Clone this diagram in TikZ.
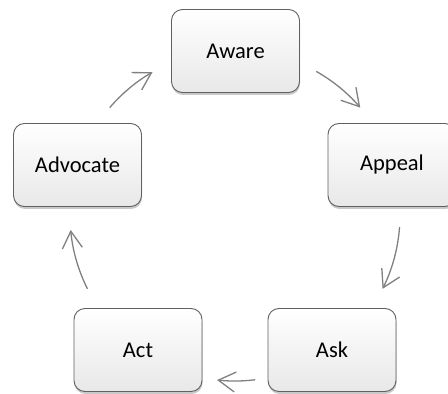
\documentclass[tikz,border=0pt]{standalone}
\usepackage{fontspec}
\setmainfont{Carlito}
\usetikzlibrary{arrows.meta,shadows,calc}
\begin{document}
\begin{tikzpicture}[x=1pt,y=1pt,
  box/.style={draw=black!62, line width=0.9pt, rounded corners=11pt,
    minimum width=128pt, minimum height=83pt, inner sep=0pt,
    top color=white, bottom color=black!9,
    drop shadow={shadow xshift=0.5pt, shadow yshift=-2.5pt, opacity=0.3, fill=black!70},
    font=\fontsize{22.5}{27}\selectfont},
  arr/.style={draw=black!50, line width=1.3pt,
    -{Straight Barb[length=17pt, width=20pt, line width=1.3pt]}}]
\useasboundingbox (0,0) rectangle (448,394);
\node[box] (aware) at (235.5,343) {Aware};
\node[box] (appeal) at (392,229) {Appeal};
\node[box] (ask) at (332,44) {Ask};
\node[box] (act) at (138,44) {Act};
\node[box] (advocate) at (77.5,229) {Advocate};
\coordinate (C) at (235,179);
\coordinate (s1) at ($(C)+(139.4:165)$);
\coordinate (s2) at ($(C)+(60.5:165)$);
\coordinate (s3) at ($(C)+(-4.2:165)$);
\coordinate (s4) at ($(C)+(-83:166)$);
\coordinate (s5) at ($(C)+(206.6:165)$);
\draw[arr] (s1) arc[start angle=139.4, end angle=120, radius=165];
\draw[arr] (s2) arc[start angle=60.5, end angle=40.6, radius=165];
\draw[arr] (s3) arc[start angle=-4.2, end angle=-26.6, radius=165];
\draw[arr] (s4) arc[start angle=-83, end angle=-96.2, radius=166];
\draw[arr] (s5) arc[start angle=206.6, end angle=185.2, radius=165];
\end{tikzpicture}
\end{document}
